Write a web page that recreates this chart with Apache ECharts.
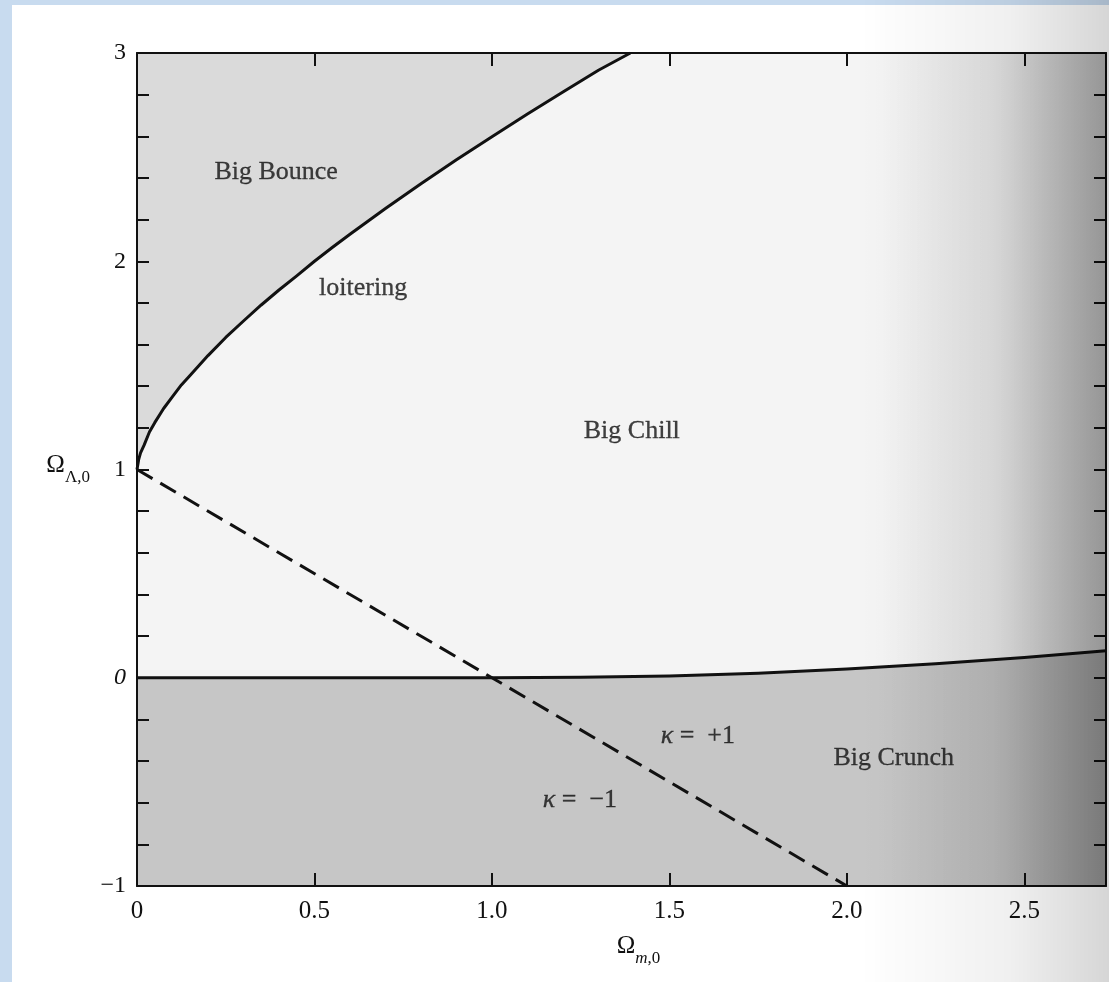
<!DOCTYPE html>
<html>
<head>
<meta charset="utf-8">
<script src="https://cdn.jsdelivr.net/npm/echarts@6/dist/echarts.min.js"></script>
<style>
  html, body { margin: 0; padding: 0; width: 1109px; height: 982px; overflow: hidden; background: #c8dbef; }
  .page { position: absolute; left: 12px; top: 5px; right: 0; bottom: 0; background: #ffffff; }
  #chart { position: absolute; left: 0; top: 0; width: 1109px; height: 982px; }
</style>
</head>
<body>
<div class="page"></div>
<div id="chart"></div>
<script>
// Loitering boundary: above it the universe has a Big Bounce (no Big Bang)
const loiterOmegaM = [0, 0.005, 0.01, 0.02, 0.035, 0.05, 0.075, 0.1, 0.125, 0.15, 0.2, 0.25, 0.3, 0.35, 0.4, 0.45, 0.5, 0.55, 0.6, 0.7, 0.8, 0.9, 1.0, 1.1, 1.2, 1.3, 1.39];
const loiterOmegaL = [1.000, 1.050, 1.080, 1.117, 1.180, 1.225, 1.293, 1.350, 1.406, 1.453, 1.547, 1.634, 1.713, 1.790, 1.862, 1.930, 2.000, 2.066, 2.130, 2.253, 2.372, 2.487, 2.598, 2.707, 2.813, 2.917, 3.000];

// Boundary between Big Chill and Big Crunch
const crunchOmegaM = [0, 0.5, 1.0, 1.25, 1.5, 1.75, 2.0, 2.25, 2.5, 2.73];
const crunchOmegaL = [0, 0, 0, 0.002, 0.009, 0.022, 0.042, 0.067, 0.097, 0.13];

// Flat universe (kappa = 0): Omega_Lambda = 1 - Omega_m
const flatOmegaM = [0, 2.0];
const flatOmegaL = [1, -1];

// Axis ranges and ticks
const xRange = [0, 2.73];
const yRange = [-1, 3];
const xTickStep = 0.5;
const yTickStep = 1;

// Region names
const regionNames = ['Big Bounce', 'loitering', 'Big Chill', 'Big Crunch', 'kplus', 'kminus'];
const regionOmegaM = [0.392, 0.637, 1.394, 2.132, 1.580, 1.248];
const regionOmegaL = [2.428, 1.870, 1.183, -0.385, -0.279, -0.587];

const SERIF = "'Liberation Serif', 'Times New Roman', serif";
const INK = '#111111';

const zip = (a, b) => a.map((v, i) => [v, b[i]]);

const chart = echarts.init(document.getElementById('chart'), null, { renderer: 'canvas' });

const axisLineStyle = { color: INK, width: 2 };
const tickStyle = { color: INK, width: 2 };

const option = {
  backgroundColor: 'transparent',
  animation: false,
  grid: {
    left: 137, top: 53, width: 969, height: 833,
    show: true, backgroundColor: '#f4f4f4', borderWidth: 0
  },
  xAxis: [
    {
      type: 'value', min: xRange[0], max: xRange[1], interval: xTickStep,
      position: 'bottom', z: 10,
      axisLine: { show: true, onZero: false, lineStyle: axisLineStyle },
      axisTick: { show: true, inside: true, length: 13, lineStyle: tickStyle },
      axisLabel: {
        showMaxLabel: false, margin: 13, color: INK, fontFamily: SERIF, fontSize: 25,
        formatter: v => (v === 0 ? '0' : v.toFixed(1))
      },
      splitLine: { show: false },
      name: '{o|Ω}{s|m}{t|,0}',
      nameLocation: 'middle', nameGap: 48,
      nameTextStyle: {
        padding: [0, 0, 0, 34],
        rich: {
          o: { fontFamily: SERIF, fontSize: 25, color: INK, padding: [0, 0, 8, 0] },
          s: { fontFamily: SERIF, fontSize: 17, color: INK, fontStyle: 'italic', verticalAlign: 'bottom' },
          t: { fontFamily: SERIF, fontSize: 17, color: INK, verticalAlign: 'bottom' }
        }
      }
    },
    {
      type: 'value', min: xRange[0], max: xRange[1], interval: xTickStep,
      position: 'top', z: 10,
      axisLine: { show: true, onZero: false, lineStyle: axisLineStyle },
      axisTick: { show: true, inside: true, length: 13, lineStyle: tickStyle },
      axisLabel: { show: false },
      splitLine: { show: false }
    }
  ],
  yAxis: [
    {
      type: 'value', min: yRange[0], max: yRange[1], interval: yTickStep,
      position: 'left', z: 10,
      axisLine: { show: true, onZero: false, lineStyle: axisLineStyle },
      axisTick: { show: true, inside: true, length: 12, lineStyle: tickStyle },
      minorTick: { show: true, splitNumber: 5, length: 12, lineStyle: tickStyle },
      axisLabel: {
        margin: 11, color: INK, fontFamily: SERIF, fontSize: 24,
        formatter: v => (v === 0 ? '{i|0}' : (v < 0 ? '\u2212' + Math.abs(v) : String(v))),
        rich: { i: { fontFamily: SERIF, fontSize: 24, fontStyle: 'italic', color: INK } }
      },
      splitLine: { show: false },
      name: '{o|Ω}{s|Λ,0}',
      nameLocation: 'middle', nameRotate: 0, nameGap: 47,
      nameTextStyle: {
        rich: {
          o: { fontFamily: SERIF, fontSize: 25, color: INK, padding: [0, 0, 8, 0] },
          s: { fontFamily: SERIF, fontSize: 17, color: INK, verticalAlign: 'bottom' }
        }
      }
    },
    {
      type: 'value', min: yRange[0], max: yRange[1], interval: yTickStep,
      position: 'right', z: 10,
      axisLine: { show: true, onZero: false, lineStyle: axisLineStyle },
      axisTick: { show: true, inside: true, length: 12, lineStyle: tickStyle },
      minorTick: { show: true, splitNumber: 5, length: 12, lineStyle: tickStyle },
      axisLabel: { show: false },
      splitLine: { show: false }
    }
  ],
  series: [
    {
      // Big Crunch region below the lower boundary
      name: 'crunch', type: 'line', xAxisIndex: 0, yAxisIndex: 0,
      data: zip(crunchOmegaM, crunchOmegaL),
      symbol: 'none', smooth: false,
      lineStyle: { color: INK, width: 3, join: 'round' },
      areaStyle: { color: '#c6c6c6', origin: 'start', opacity: 1 },
      z: 2
    },
    {
      // Big Bounce region above the loitering curve
      name: 'bounce', type: 'line', xAxisIndex: 0, yAxisIndex: 0,
      data: zip(loiterOmegaM, loiterOmegaL),
      symbol: 'none', smooth: false,
      lineStyle: { color: INK, width: 3, join: 'round' },
      areaStyle: { color: '#dadada', origin: 'end', opacity: 1 },
      z: 3
    },
    {
      name: 'flat', type: 'line', xAxisIndex: 0, yAxisIndex: 0,
      data: zip(flatOmegaM, flatOmegaL),
      symbol: 'none',
      lineStyle: { color: INK, width: 3, type: [18, 9] },
      z: 4
    },
    {
      name: 'regions', type: 'scatter', xAxisIndex: 0, yAxisIndex: 0,
      symbolSize: 0, silent: true, z: 5,
      data: regionNames.map((n, i) => ({ name: n, value: [regionOmegaM[i], regionOmegaL[i]] })),
      label: {
        show: true, position: 'inside', color: INK, fontFamily: SERIF, fontSize: 26,
        textBorderColor: INK, textBorderWidth: 0.3,
        formatter: p => {
          if (p.name === 'kplus') return '{k|κ}{t| =  +1}';
          if (p.name === 'kminus') return '{k|κ}{t| =  \u22121}';
          return p.name;
        },
        rich: {
          k: { fontFamily: SERIF, fontSize: 26, fontStyle: 'italic', color: INK, textBorderColor: INK, textBorderWidth: 0.3 },
          t: { fontFamily: SERIF, fontSize: 26, color: INK, textBorderColor: INK, textBorderWidth: 0.3 }
        }
      }
    }
  ],
  graphic: [
    {
      // shading toward the binding on the right side
      type: 'rect', z: 100, silent: true,
      shape: { x: 860, y: 0, width: 249, height: 982 },
      style: {
        fill: new echarts.graphic.LinearGradient(0, 0, 1, 0, [
          { offset: 0, color: 'rgba(0,0,0,0)' },
          { offset: 0.6, color: 'rgba(0,0,0,0.06)' },
          { offset: 1, color: 'rgba(0,0,0,0.16)' }
        ])
      }
    },
    {
      type: 'rect', z: 101, silent: true,
      shape: { x: 880, y: 53, width: 226, height: 833 },
      style: {
        fill: new echarts.graphic.LinearGradient(0, 0, 1, 0, [
          { offset: 0, color: 'rgba(0,0,0,0)' },
          { offset: 0.5, color: 'rgba(0,0,0,0.07)' },
          { offset: 1, color: 'rgba(0,0,0,0.27)' }
        ])
      }
    }
  ]
};

chart.setOption(option);
</script>
</body>
</html>
